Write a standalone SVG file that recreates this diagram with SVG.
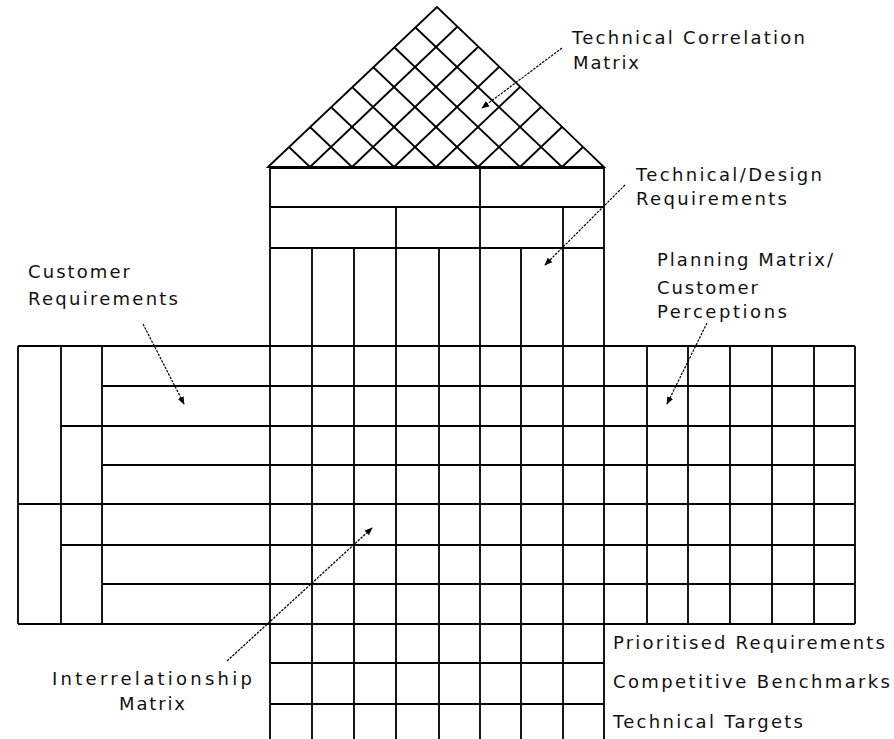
<svg xmlns="http://www.w3.org/2000/svg" width="894" height="739" viewBox="0 0 894 739">
<style>
.g{fill:none;stroke:#000;stroke-width:1.8}
.t{font-family:"DejaVu Sans","Liberation Sans",sans-serif;font-size:18px;fill:#111}
.a{fill:none;stroke:#000;stroke-width:1.2;stroke-dasharray:2.5 1.2;marker-end:url(#ah)}
</style>
<defs>
<marker id="ah" viewBox="0 0 10 10" refX="9" refY="5" markerWidth="8" markerHeight="8" markerUnits="userSpaceOnUse" orient="auto">
<path d="M0,1 L10,5 L0,9 Z" fill="#000"/>
</marker>
</defs>
<rect width="894" height="739" fill="#fff"/>

<g id="correlation-matrix">
<path class="g" d="M268,167 L437,7 L604,167 Z"/>
<path class="g" d="M310,167 L457,27 M352,167 L478,47 M394,167 L499,67 M436,167 L520,87 M478,167 L541,107 M520,167 L562,127 M562,167 L583,147"/>
<path class="g" d="M310,167 L289,147 M352,167 L310,127 M394,167 L331,107 M436,167 L352,87 M478,167 L373,67 M520,167 L394,47 M562,167 L415,27"/>
</g>

<g id="technical-requirements">
<path class="g" d="M270,168 H604 M270,207 H604 M270,248 H604 M480,168 V248 M396,207 V248 M563,207 V248"/>
</g>

<g id="central-columns">
<path class="g" d="M270,168 V739 M604,168 V739 M312,248 V739 M354,248 V739 M396,248 V739 M439,248 V739 M480,248 V739 M521,248 V739 M563,248 V739"/>
<path class="g" d="M270,663 H604 M270,704 H604"/>
</g>

<g id="customer-requirements">
<path class="g" d="M18,346 H270 M18,624 H270 M18,346 V624 M61,346 V624 M102,346 V624"/>
<path class="g" d="M102,386 H270 M61,426 H270 M102,465 H270 M18,504 H270 M61,545 H270 M102,584 H270"/>
</g>

<g id="interrelationship-matrix">
<path class="g" d="M270,346 H604 M270,386 H604 M270,426 H604 M270,465 H604 M270,504 H604 M270,545 H604 M270,584 H604 M270,624 H604"/>
</g>

<g id="planning-matrix">
<path class="g" d="M604,346 H855 M604,386 H855 M604,426 H855 M604,465 H855 M604,504 H855 M604,545 H855 M604,584 H855 M604,624 H855"/>
<path class="g" d="M647,346 V624 M688,346 V624 M730,346 V624 M772,346 V624 M814,346 V624 M855,346 V624"/>
</g>

<g id="connectors">
<path class="a" d="M562,48 L482,108"/>
<path class="a" d="M625,185 L545,265"/>
<path class="a" d="M143,324 L184,404"/>
<path class="a" d="M707,323 L667,404"/>
<path class="a" d="M227,661 L372,528"/>
</g>

<g id="labels">
<text class="t" x="572" y="44" textLength="233" lengthAdjust="spacing">Technical Correlation</text>
<text class="t" x="573" y="69" textLength="66" lengthAdjust="spacing">Matrix</text>
<text class="t" x="636" y="181" textLength="186" lengthAdjust="spacing">Technical/Design</text>
<text class="t" x="636" y="205" textLength="151" lengthAdjust="spacing">Requirements</text>
<text class="t" x="657" y="266" textLength="176" lengthAdjust="spacing">Planning Matrix/</text>
<text class="t" x="657" y="294" textLength="101" lengthAdjust="spacing">Customer</text>
<text class="t" x="657" y="318" textLength="130" lengthAdjust="spacing">Perceptions</text>
<text class="t" x="28" y="278" textLength="102" lengthAdjust="spacing">Customer</text>
<text class="t" x="28" y="305" textLength="150" lengthAdjust="spacing">Requirements</text>
<text class="t" x="52" y="685" textLength="200" lengthAdjust="spacing">Interrelationship</text>
<text class="t" x="119" y="710" textLength="66" lengthAdjust="spacing">Matrix</text>
<text class="t" x="613" y="649" textLength="272" lengthAdjust="spacing">Prioritised Requirements</text>
<text class="t" x="613" y="688" textLength="277" lengthAdjust="spacing">Competitive Benchmarks</text>
<text class="t" x="613" y="728" textLength="190" lengthAdjust="spacing">Technical Targets</text>
</g>
</svg>
